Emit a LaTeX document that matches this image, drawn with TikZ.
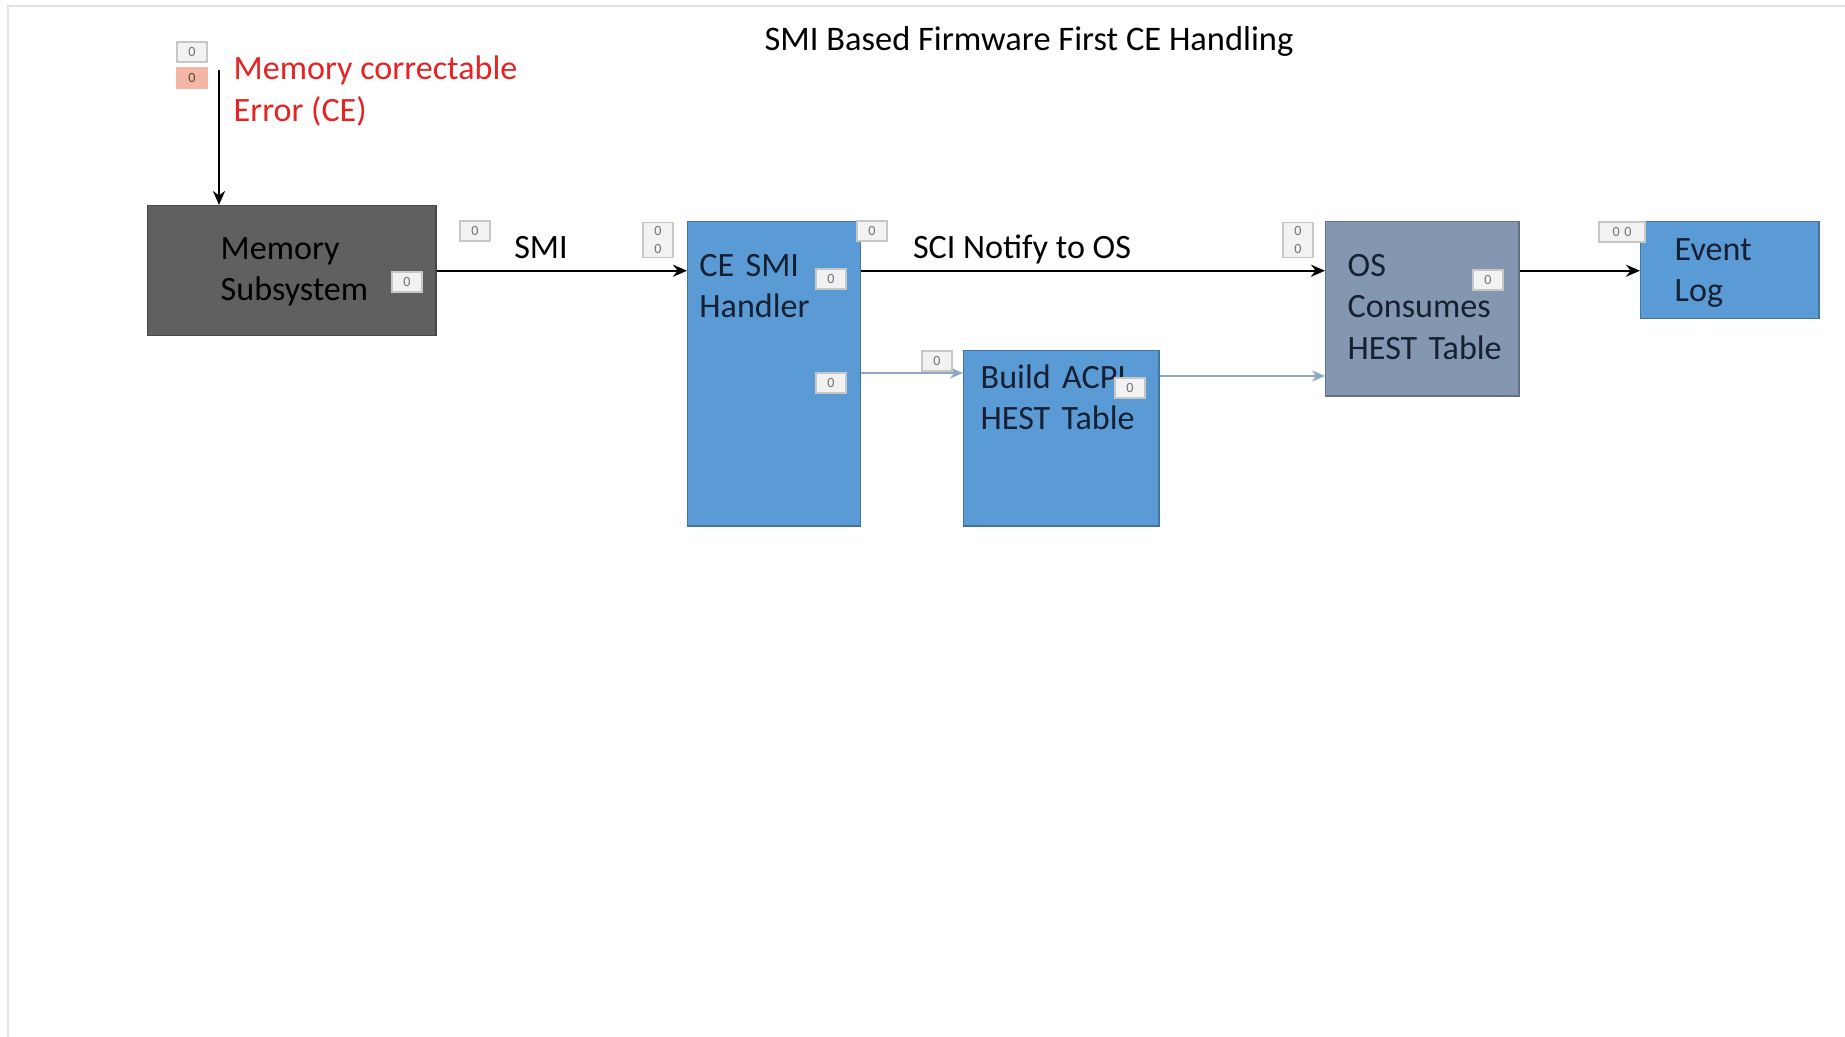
\documentclass[tikz,border=0pt]{standalone}
\usepackage{fontspec}
\setmainfont{Carlito}
\usepackage{xcolor}
\usetikzlibrary{arrows.meta,calc}

\definecolor{memgrey}{RGB}{96,96,96}
\definecolor{smiblue}{RGB}{91,155,213}
\definecolor{osslate}{RGB}{132,151,176}
\definecolor{cered}{RGB}{228,36,36}
\definecolor{boxtext}{RGB}{22,32,50}
\definecolor{thinblue}{RGB}{140,166,196}
\definecolor{framegrey}{RGB}{224,224,224}
\definecolor{badgered}{RGB}{244,182,166}
\newcommand{\bodysize}{\fontsize{9.7}{11.7}\selectfont\hyphenpenalty=10000}

\begin{document}
\begin{tikzpicture}[x=0.01cm, y=-0.01cm,
  box/.style={draw=#1!75!black, fill=#1, anchor=north west, align=left,
    inner ysep=0pt, text=boxtext, font=\bodysize},
  badge/.style={draw=black!22, fill=white!95!black, text=black!55, inner sep=0pt,
    minimum width=0.3cm, minimum height=0.2cm, align=center,
    font=\fontsize{4}{5}\selectfont},
  arr/.style={-{Stealth[length=0.14cm,width=0.12cm]}, line width=0.7pt},
  thinarr/.style={-{Stealth[length=0.13cm,width=0.11cm]}, draw=thinblue, line width=0.45pt}]
  \useasboundingbox (0,0) rectangle (1845,1037);
  \draw[framegrey, line width=0.6pt] (8,1037) -- (8,6) -- (1845,6);

  \node[anchor=base, font=\fontsize{9.8}{11}\selectfont] (title) at (1029,51) {SMI Based Firmware First CE Handling};

  \node[box=memgrey, text=black, minimum width=2.88cm, text width=1.42cm,
    text height=0.54cm, text depth=0.76cm] (mem) at (147,205) {Memory\\Subsystem};
  \node[box=smiblue, minimum width=1.71cm, text width=1.49cm,
    text height=0.55cm, text depth=2.49cm] (handler) at (687,221) {CE SMI\\Handler};
  \node[box=smiblue, minimum width=1.95cm, text width=1.61cm,
    text height=0.38cm, text depth=1.37cm] (build) at (963,350) {Build ACPI\\HEST~Table};
  \node[box=osslate, minimum width=1.93cm, text width=1.49cm,
    text height=0.55cm, text depth=1.19cm] (os) at (1325,221) {OS\\Consumes\\HEST~Table};
  \node[box=smiblue, minimum width=1.78cm, text width=1.10cm,
    text height=0.39cm, text depth=0.58cm] (event) at (1640,221) {Event\\Log};

  \node[anchor=west, inner sep=0pt, align=left, text=cered, font=\bodysize] (celabel) at (233,91) {Memory correctable\\Error (CE)};
  \coordinate (cestart) at (219,70);
  \draw[arr] (cestart) -- (cestart |- mem.north);

  \draw[arr] (mem.east) -- (mem.east -| handler.west);
  \node[anchor=base, font=\bodysize] (smi) at (541,259) {SMI};
  \draw[arr] (handler.east |- mem.east) -- (os.west |- mem.east);
  \node[anchor=base, font=\bodysize] (sci) at (1022,259) {SCI Notify to OS};
  \draw[arr] (os.east |- mem.east) -- (event.west |- mem.east);
  \draw[thinarr] ($(handler.east |- build.north)+(0,23)$) -- ($(build.north west)+(0,23)$);
  \draw[thinarr] ($(build.north east)+(0,26)$) -- ($(os.west |- build.north)+(0,26)$);

  \foreach \x/\y [count=\i] in {192/52, 407/282, 475/231, 872/231, 831/279,
      831/383, 937/361, 1130/388, 1488/280}
    \node[badge] (badge\i) at (\x,\y) {0};
  \node[badge, fill=badgered, draw=badgered, text=black!55!olive] (redbadge) at (192,78) {0};
  \node[badge, minimum height=0.35cm] (smibadge) at (658,240) {0\\0};
  \node[badge, minimum height=0.35cm] (scibadge) at (1298,240) {0\\0};
  \node[badge, minimum width=0.46cm] (logbadge) at (1622,232) {0\,\,0};
\end{tikzpicture}
\end{document}
